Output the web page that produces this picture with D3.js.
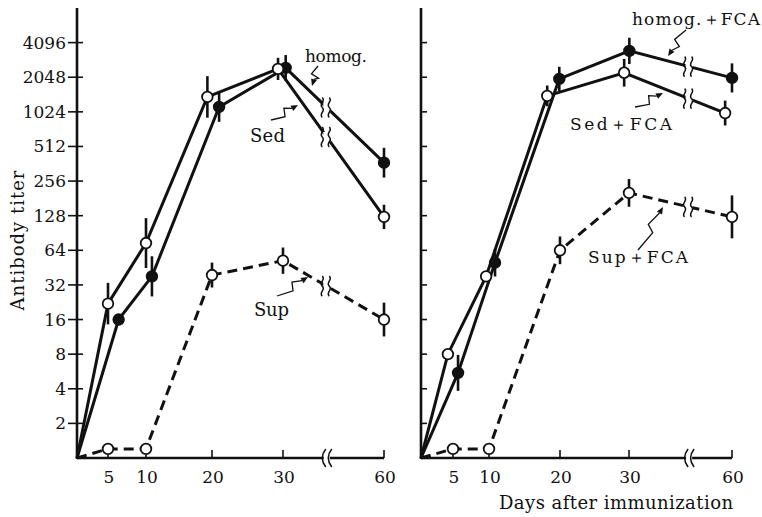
<!DOCTYPE html>
<html><head><meta charset="utf-8">
<script src="https://cdn.jsdelivr.net/npm/d3@7"></script>
<style>body{margin:0;background:#fff}svg{display:block}</style>
</head><body>
<svg id="c" width="762" height="517" font-family="DejaVu Serif, Liberation Serif, serif"></svg>
<script>
// ---- data ----
const dayTicks = [5, 10, 20, 30, 60];
const titerTicks = [2, 4, 8, 16, 32, 64, 128, 256, 512, 1024, 2048, 4096];

// left panel
const sedDays   = [0, 5, 10, 19.3, 29.3, 60];
const sedTiter  = [1, 22, 74, 1380, 2420, 125];
const sedErr    = [0, 0.6, 0.72, 0.6, 0.32, 0.35];
const homDays   = [0, 6.4, 10.9, 21, 30.8, 60];
const homTiter  = [1, 16, 38, 1130, 2470, 370];
const homErr    = [0, 0, 0.58, 0.43, 0.37, 0.43];
const supDays   = [0, 5, 10, 20, 30, 60];
const supTiter  = [1, 1.2, 1.2, 39, 52, 16];
const supErr    = [0, 0, 0, 0.36, 0.38, 0.49];

// right panel (+FCA)
const homFDays  = [0, 5.7, 10.85, 19.9, 30.1, 60];
const homFTiter = [1, 5.5, 50, 1980, 3470, 2020];
const homFErr   = [0, 0.52, 0.4, 0.35, 0.38, 0.42];
const sedFDays  = [0, 4.2, 9.6, 18.2, 29.3, 58];
const sedFTiter = [1, 8, 38, 1410, 2240, 1000];
const sedFErr   = [0, 0, 0.15, 0.3, 0.4, 0.36];
const supFDays  = [0, 5, 10, 20, 30, 60];
const supFTiter = [1, 1.2, 1.2, 64, 202, 125];
const supFErr   = [0, 0, 0, 0.4, 0.4, 0.62];

// ---- drawing ----
const svg = d3.select("#c");
const INK = "#111";
const y = d3.scaleLog().base(2).domain([1, 8192]).range([458, 8]);
const xL = d3.scaleLinear().domain([0, 5, 10, 20, 30, 60]).range([77, 108, 146, 212, 283, 384]);
const xR = d3.scaleLinear().domain([0, 5, 10, 20, 30, 60]).range([421, 453, 489, 560, 629, 732]);

function zip(d, t, e) { return d.map((v, i) => ({d: v, t: t[i], e: e[i]})); }

function squiggle(g, cx, cy, h) {
  [-3.5, 3.5].forEach(o => {
    g.append("path")
      .attr("d", `M${cx+o-1},${cy-h/2} c 4,${h/6} -4,${h/3} 0,${h/2} c 4,${h/6} -4,${h/3} 0,${h/2}`)
      .attr("fill", "none").attr("stroke", INK).attr("stroke-width", 1.5);
  });
}

function panel(x, series, breakDay, left) {
  const g = svg.append("g");
  const x0 = x(0), yb = y(1);
  g.append("line").attr("x1", x0).attr("x2", x0).attr("y1", 8).attr("y2", yb + 1)
    .attr("stroke", INK).attr("stroke-width", 2.6);
  titerTicks.forEach(t => {
    g.append("line").attr("x1", left ? x0 - 9 : x0).attr("x2", x0 + 6)
      .attr("y1", y(t)).attr("y2", y(t)).attr("stroke", INK).attr("stroke-width", 1.6);
    if (left) g.append("text").attr("x", x0 - 11).attr("y", y(t) + 6).attr("fill", INK)
      .attr("text-anchor", "end").attr("font-size", 17).text(t);
  });
  const xb = x(breakDay);
  g.append("line").attr("x1", x0).attr("x2", x(60)).attr("y1", yb).attr("y2", yb)
    .attr("stroke", INK).attr("stroke-width", 2.6);
  g.append("rect").attr("x", xb - 3).attr("y", yb - 3).attr("width", 6).attr("height", 6).attr("fill", "#fff");
  [-3, 3].forEach(o => g.append("path")
    .attr("d", `M${xb+o+2},${yb-9} q -7,9 0,18`).attr("fill", "none")
    .attr("stroke", INK).attr("stroke-width", 1.5));
  dayTicks.forEach(d => {
    g.append("line").attr("x1", x(d)).attr("x2", x(d)).attr("y1", yb).attr("y2", yb - 8)
      .attr("stroke", INK).attr("stroke-width", 1.6);
    g.append("text").attr("x", x(d) + 1).attr("y", 483).attr("text-anchor", "middle").attr("fill", INK)
      .attr("font-size", 17).text(d);
  });

  const line = d3.line().x(p => x(p.d)).y(p => y(p.t));
  series.forEach(s => {
    g.append("path").attr("d", line(s.pts)).attr("fill", "none").attr("stroke", INK)
      .attr("stroke-width", 3).attr("stroke-dasharray", s.dash ? "10,6" : null);
    const pts = s.pts;
    for (let i = 1; i < pts.length; i++) {
      if (pts[i - 1].d < breakDay && pts[i].d >= breakDay) {
        const xa = x(pts[i - 1].d), xc = x(pts[i].d);
        const ya = y(pts[i - 1].t), yc = y(pts[i].t);
        const yy = ya + (xb - xa) / (xc - xa) * (yc - ya);
        g.append("rect").attr("x", xb - 3.5).attr("y", yy - 5).attr("width", 7).attr("height", 10).attr("fill", "#fff");
        squiggle(g, xb, yy, 20);
      }
    }
  });
  series.forEach(s => {
    s.pts.forEach(p => {
      if (p.d === 0) return;
      if (p.e > 0) {
        g.append("line").attr("x1", x(p.d)).attr("x2", x(p.d))
          .attr("y1", y(p.t * Math.pow(2, p.e))).attr("y2", y(p.t / Math.pow(2, p.e)))
          .attr("stroke", INK).attr("stroke-width", 2.6);
      }
      g.append("circle").attr("cx", x(p.d)).attr("cy", y(p.t)).attr("r", 5.3)
        .attr("fill", s.filled ? INK : "#fff").attr("stroke", INK).attr("stroke-width", 1.8);
    });
  });
}

panel(xL, [
  {pts: zip(supDays, supTiter, supErr), dash: true, filled: false},
  {pts: zip(homDays, homTiter, homErr), dash: false, filled: true},
  {pts: zip(sedDays, sedTiter, sedErr), dash: false, filled: false}
], 43, true);
panel(xR, [
  {pts: zip(supFDays, supFTiter, supFErr), dash: true, filled: false},
  {pts: zip(homFDays, homFTiter, homFErr), dash: false, filled: true},
  {pts: zip(sedFDays, sedFTiter, sedFErr), dash: false, filled: false}
], 47.5, false);

function bolt(x1, y1, x2, y2) {
  const dx = x2 - x1, dy = y2 - y1, L = Math.hypot(dx, dy);
  const ux = dx / L, uy = dy / L, px = -uy, py = ux;
  const a = [x1 + dx * 0.45 + px * 4, y1 + dy * 0.45 + py * 4];
  const b = [x1 + dx * 0.55 - px * 4, y1 + dy * 0.55 - py * 4];
  const tip = [x2, y2], base = [x2 - ux * 7, y2 - uy * 7];
  svg.append("path").attr("d", `M${x1},${y1}L${a}L${b}L${base}`)
    .attr("fill", "none").attr("stroke", INK).attr("stroke-width", 1.3);
  svg.append("path").attr("d",
    `M${tip}L${base[0] + px * 3},${base[1] + py * 3}L${base[0] - px * 3},${base[1] - py * 3}Z`)
    .attr("fill", INK);
}
bolt(318, 66, 312, 86);
bolt(271, 120, 298, 105);
bolt(277, 296, 308, 277);
bolt(686, 30, 668, 56);
bolt(635, 107, 663, 93);
bolt(638, 250, 663, 207);

function label(txt, x0, yb, w, fs) {
  svg.append("text").attr("x", x0).attr("y", yb).attr("font-size", fs).attr("fill", INK)
    .attr("textLength", w).attr("lengthAdjust", "spacing").text(txt);
}
label("homog.", 305, 62, 62, 17);
label("Sed", 250, 142, 35, 18);
label("Sup", 254, 316, 35, 18);
label("homog.＋FCA", 632, 25, 128, 17);
label("Sed＋FCA", 570, 130, 102, 17);
label("Sup＋FCA", 588, 263, 100, 17);
label("Days after immunization", 499, 509, 234, 18);

svg.append("text").attr("transform", "translate(24,240) rotate(-90)").attr("fill", INK)
  .attr("text-anchor", "middle").attr("font-size", 18).attr("letter-spacing", 1)
  .text("Antibody titer");
</script>
</body></html>
